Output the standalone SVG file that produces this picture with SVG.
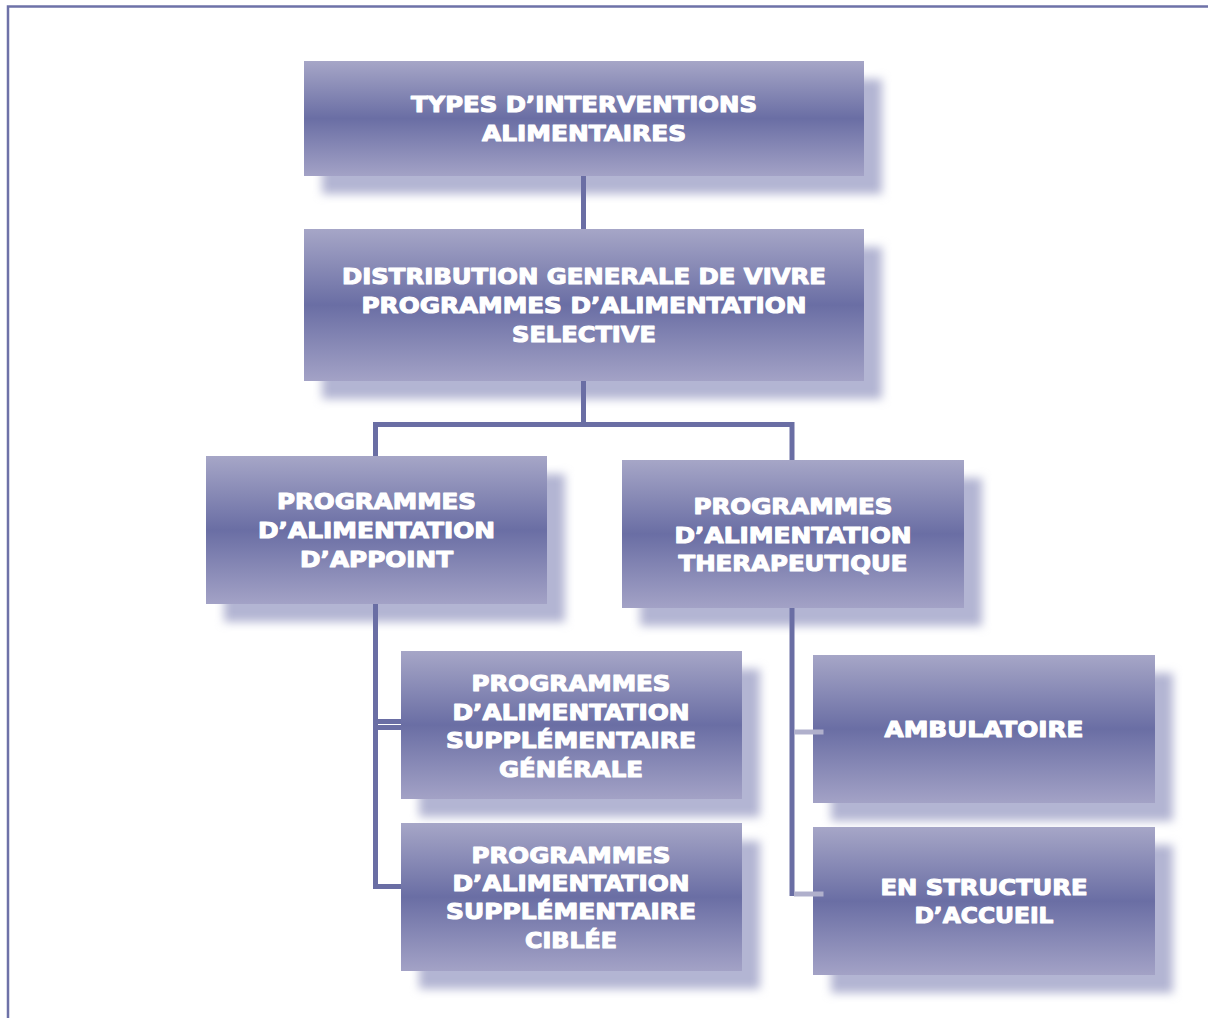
<svg xmlns="http://www.w3.org/2000/svg" width="1208" height="1018" viewBox="0 0 1208 1018">
  <defs>
    <linearGradient id="boxGrad" x1="0" y1="0" x2="0" y2="1">
      <stop offset="0" stop-color="#a6a6c7"/>
      <stop offset="0.5" stop-color="#6a6ea4"/>
      <stop offset="1" stop-color="#a3a2c6"/>
    </linearGradient>
    <filter id="blur" x="-10%" y="-20%" width="120%" height="140%">
      <feGaussianBlur stdDeviation="5"/>
    </filter>
    <style>
      .shadow { fill: #b3b5d3; filter: url(#blur); }
      .box { fill: url(#boxGrad); }
      .lbl { font-family: "DejaVu Sans", "Liberation Sans", sans-serif; font-weight: bold; font-size: 22px; fill: #ffffff; stroke: #ffffff; stroke-width: 1.1; stroke-linejoin: round; text-anchor: middle; }
      .conn { fill: none; stroke: #6a6ea4; stroke-width: 5; }
      .stub { fill: none; stroke: #b0b0cc; stroke-width: 5; }
      .frame { fill: none; stroke: #6e72a8; stroke-width: 2.5; }
    </style>
  </defs>
  <rect x="0" y="0" width="1208" height="1018" fill="#ffffff"/>
  <path class="frame" d="M8,1018 V6.5 H1208"/>

  <g id="node-types">
    <rect class="shadow" x="322" y="79" width="560" height="115"/>
    <rect class="box" x="304" y="61" width="560" height="115"/>
    <text class="lbl" x="584" y="112" textLength="346" lengthAdjust="spacingAndGlyphs">TYPES D’INTERVENTIONS</text>
    <text class="lbl" x="584" y="141" textLength="204" lengthAdjust="spacingAndGlyphs">ALIMENTAIRES</text>
  </g>

  <g id="node-distribution">
    <rect class="shadow" x="322" y="247" width="560" height="152"/>
    <rect class="box" x="304" y="229" width="560" height="152"/>
    <text class="lbl" x="584" y="284" textLength="484" lengthAdjust="spacingAndGlyphs">DISTRIBUTION GENERALE DE VIVRE</text>
    <text class="lbl" x="584" y="313" textLength="445" lengthAdjust="spacingAndGlyphs">PROGRAMMES D’ALIMENTATION</text>
    <text class="lbl" x="584" y="342" textLength="144" lengthAdjust="spacingAndGlyphs">SELECTIVE</text>
  </g>

  <g id="node-appoint">
    <rect class="shadow" x="224" y="474" width="341" height="148"/>
    <rect class="box" x="206" y="456" width="341" height="148"/>
    <text class="lbl" x="376.5" y="509" textLength="199" lengthAdjust="spacingAndGlyphs">PROGRAMMES</text>
    <text class="lbl" x="376.5" y="538" textLength="237" lengthAdjust="spacingAndGlyphs">D’ALIMENTATION</text>
    <text class="lbl" x="376.5" y="567" textLength="153" lengthAdjust="spacingAndGlyphs">D’APPOINT</text>
  </g>

  <g id="node-therapeutique">
    <rect class="shadow" x="640" y="478" width="342" height="148"/>
    <rect class="box" x="622" y="460" width="342" height="148"/>
    <text class="lbl" x="793" y="514" textLength="199" lengthAdjust="spacingAndGlyphs">PROGRAMMES</text>
    <text class="lbl" x="793" y="543" textLength="237" lengthAdjust="spacingAndGlyphs">D’ALIMENTATION</text>
    <text class="lbl" x="793" y="571" textLength="229" lengthAdjust="spacingAndGlyphs">THERAPEUTIQUE</text>
  </g>

  <g id="node-generale">
    <rect class="shadow" x="419" y="669" width="341" height="148"/>
    <rect class="box" x="401" y="651" width="341" height="148"/>
    <text class="lbl" x="571" y="691" textLength="199" lengthAdjust="spacingAndGlyphs">PROGRAMMES</text>
    <text class="lbl" x="571" y="720" textLength="237" lengthAdjust="spacingAndGlyphs">D’ALIMENTATION</text>
    <text class="lbl" x="571" y="748" textLength="250" lengthAdjust="spacingAndGlyphs">SUPPLÉMENTAIRE</text>
    <text class="lbl" x="571" y="777" textLength="144" lengthAdjust="spacingAndGlyphs">GÉNÉRALE</text>
  </g>

  <g id="node-ciblee">
    <rect class="shadow" x="419" y="841" width="341" height="148"/>
    <rect class="box" x="401" y="823" width="341" height="148"/>
    <text class="lbl" x="571" y="863" textLength="199" lengthAdjust="spacingAndGlyphs">PROGRAMMES</text>
    <text class="lbl" x="571" y="891" textLength="237" lengthAdjust="spacingAndGlyphs">D’ALIMENTATION</text>
    <text class="lbl" x="571" y="919" textLength="250" lengthAdjust="spacingAndGlyphs">SUPPLÉMENTAIRE</text>
    <text class="lbl" x="571" y="948" textLength="92" lengthAdjust="spacingAndGlyphs">CIBLÉE</text>
  </g>

  <g id="node-ambulatoire">
    <rect class="shadow" x="831" y="673" width="342" height="148"/>
    <rect class="box" x="813" y="655" width="342" height="148"/>
    <text class="lbl" x="984" y="737" textLength="199" lengthAdjust="spacingAndGlyphs">AMBULATOIRE</text>
  </g>

  <g id="node-accueil">
    <rect class="shadow" x="831" y="845" width="342" height="148"/>
    <rect class="box" x="813" y="827" width="342" height="148"/>
    <text class="lbl" x="984" y="895" textLength="207" lengthAdjust="spacingAndGlyphs">EN STRUCTURE</text>
    <text class="lbl" x="984" y="923" textLength="139" lengthAdjust="spacingAndGlyphs">D’ACCUEIL</text>
  </g>

  <g id="connectors">
    <path class="conn" d="M583.5,176 V229"/>
    <path class="conn" d="M583.5,381 V424.5"/>
    <path class="conn" d="M375.5,456 V424.5 H792 V460"/>
    <path class="conn" d="M375.5,604 V721.5 H401"/>
    <path class="conn" d="M401,727.5 H378 M375.5,721 V886.5 H401"/>
    <path class="conn" d="M792,608 V896"/>
    <path class="stub" d="M794,732 H823.5"/>
    <path class="stub" d="M794,894 H823.5"/>
  </g>
</svg>
